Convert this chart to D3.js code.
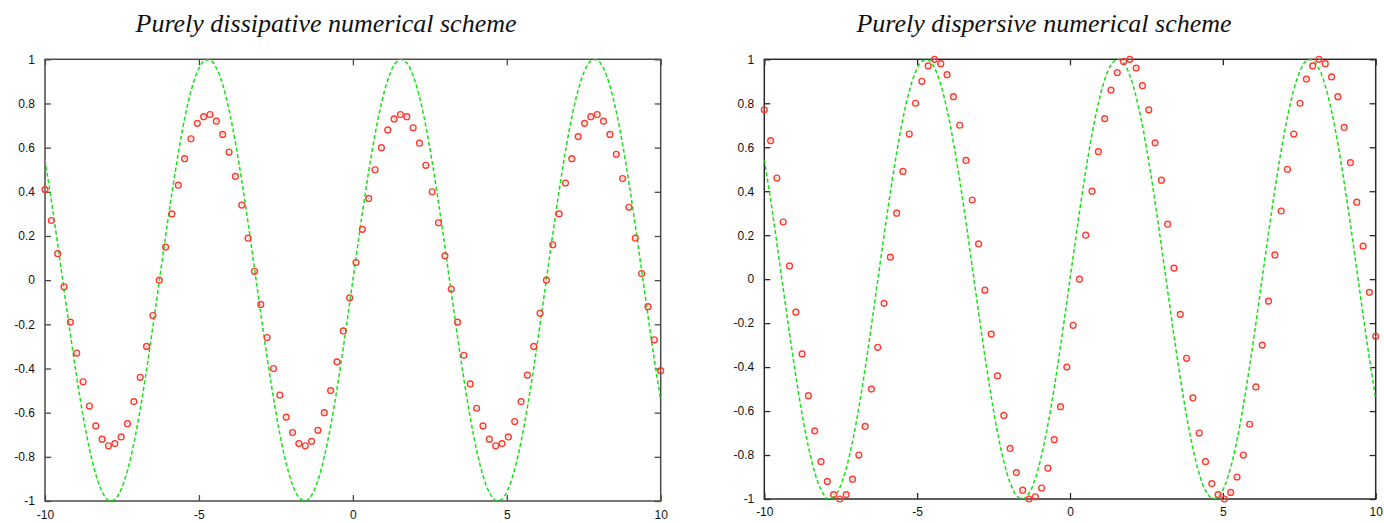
<!DOCTYPE html>
<html>
<head>
<meta charset="utf-8">
<script src="https://cdn.jsdelivr.net/npm/d3@7"></script>
<style>
  body { margin: 0; background: #fff; }
  svg { display: block; }
  .tick text { font-family: "Liberation Sans", Arial, sans-serif; font-size: 12px; fill: #111; }
  .title { font-family: "Liberation Serif", "Times New Roman", serif; font-style: italic; font-size: 26px; fill: #111; }
</style>
</head>
<body>
<svg id="chart" width="1384" height="523"></svg>
<script>
// sample positions of the numerical solution (same grid in both panels)
const xs = [
  -10.000, -9.794, -9.588, -9.381, -9.175, -8.969, -8.763, -8.557, -8.351, -8.144,
  -7.938, -7.732, -7.526, -7.320, -7.113, -6.907, -6.701, -6.495, -6.289, -6.082,
  -5.876, -5.670, -5.464, -5.258, -5.052, -4.845, -4.639, -4.433, -4.227, -4.021,
  -3.814, -3.608, -3.402, -3.196, -2.990, -2.784, -2.577, -2.371, -2.165, -1.959,
  -1.753, -1.546, -1.340, -1.134, -0.928, -0.722, -0.515, -0.309, -0.103,
  0.103, 0.309, 0.515, 0.722, 0.928, 1.134, 1.340, 1.546, 1.753, 1.959,
  2.165, 2.371, 2.577, 2.784, 2.990, 3.196, 3.402, 3.608, 3.814, 4.021,
  4.227, 4.433, 4.639, 4.845, 5.052, 5.258, 5.464, 5.670, 5.876, 6.082,
  6.289, 6.495, 6.701, 6.907, 7.113, 7.320, 7.526, 7.732, 7.938, 8.144,
  8.351, 8.557, 8.763, 8.969, 9.175, 9.381, 9.588, 9.794, 10.000
];

// exact solution (green dashed)
const exactY = [
  0.544, 0.361, 0.163, -0.044, -0.247, -0.440, -0.615, -0.763, -0.879, -0.958,
  -0.997, -0.993, -0.947, -0.861, -0.738, -0.584, -0.406, -0.210, -0.006, 0.200,
  0.396, 0.575, 0.731, 0.855, 0.943, 0.991, 0.997, 0.961, 0.885, 0.770,
  0.623, 0.450, 0.258, 0.054, -0.151, -0.350, -0.535, -0.697, -0.829, -0.926,
  -0.983, -1.000, -0.974, -0.906, -0.800, -0.661, -0.493, -0.304, -0.103,
  0.103, 0.304, 0.493, 0.661, 0.800, 0.906, 0.974, 1.000, 0.983, 0.926,
  0.829, 0.697, 0.535, 0.350, 0.151, -0.054, -0.258, -0.450, -0.623, -0.770,
  -0.885, -0.961, -0.997, -0.991, -0.943, -0.855, -0.731, -0.575, -0.396, -0.200,
  0.006, 0.210, 0.406, 0.584, 0.738, 0.861, 0.947, 0.993, 0.997, 0.958,
  0.879, 0.763, 0.615, 0.440, 0.247, 0.044, -0.163, -0.361, -0.544
];

// numerical solution, dissipative scheme (red circles, left)
const dissipY = [
  0.41, 0.27, 0.12, -0.03, -0.19, -0.33, -0.46, -0.57, -0.66, -0.72,
  -0.75, -0.74, -0.71, -0.65, -0.55, -0.44, -0.30, -0.16, 0.00, 0.15,
  0.30, 0.43, 0.55, 0.64, 0.71, 0.74, 0.75, 0.72, 0.66, 0.58,
  0.47, 0.34, 0.19, 0.04, -0.11, -0.26, -0.40, -0.52, -0.62, -0.69,
  -0.74, -0.75, -0.73, -0.68, -0.60, -0.50, -0.37, -0.23, -0.08,
  0.08, 0.23, 0.37, 0.50, 0.60, 0.68, 0.73, 0.75, 0.74, 0.69,
  0.62, 0.52, 0.40, 0.26, 0.11, -0.04, -0.19, -0.34, -0.47, -0.58,
  -0.66, -0.72, -0.75, -0.74, -0.71, -0.64, -0.55, -0.43, -0.30, -0.15,
  0.00, 0.16, 0.30, 0.44, 0.55, 0.65, 0.71, 0.74, 0.75, 0.72,
  0.66, 0.57, 0.46, 0.33, 0.19, 0.03, -0.12, -0.27, -0.41
];

// numerical solution, dispersive scheme (red circles, right)
const dispersY = [
  0.77, 0.63, 0.46, 0.26, 0.06, -0.15, -0.34, -0.53, -0.69, -0.83,
  -0.92, -0.98, -1.00, -0.98, -0.91, -0.80, -0.67, -0.50, -0.31, -0.11,
  0.10, 0.30, 0.49, 0.66, 0.80, 0.90, 0.97, 1.00, 0.98, 0.93,
  0.83, 0.70, 0.54, 0.36, 0.16, -0.05, -0.25, -0.44, -0.62, -0.77,
  -0.88, -0.96, -1.00, -0.99, -0.95, -0.86, -0.73, -0.58, -0.40, -0.21,
  0.00, 0.20, 0.40, 0.58, 0.73, 0.86, 0.94, 0.99, 1.00, 0.96,
  0.88, 0.77, 0.62, 0.45, 0.25, 0.05, -0.16, -0.36, -0.54, -0.70,
  -0.83, -0.93, -0.98, -1.00, -0.97, -0.90, -0.80, -0.66, -0.49, -0.30,
  -0.10, 0.11, 0.31, 0.50, 0.66, 0.80, 0.91, 0.97, 1.00, 0.98,
  0.92, 0.83, 0.69, 0.53, 0.35, 0.15, -0.06, -0.26
];

const xTicks = [-10, -5, 0, 5, 10];
const yTicks = [-1, -0.8, -0.6, -0.4, -0.2, 0, 0.2, 0.4, 0.6, 0.8, 1];
const titles = ["Purely dissipative numerical scheme", "Purely dispersive numerical scheme"];

const svg = d3.select("#chart");

const panels = [
  { id: "p0", title: titles[0], numY: dissipY, left: 45, right: 660.7, top: 59.3, bottom: 501, titleX: 326, xPad: 9, frame: "#4a4a4a" },
  { id: "p1", title: titles[1], numY: dispersY, left: 764.3, right: 1375.7, top: 59.3, bottom: 499, titleX: 1044, xPad: 8.5, frame: "#2a2a2a" }
];

panels.forEach(p => drawPanel(p));

function drawPanel(p) {
  const x = d3.scaleLinear().domain([-10, 10]).range([p.left, p.right]);
  const y = d3.scaleLinear().domain([-1, 1]).range([p.bottom, p.top]);
  const g = svg.append("g");

  svg.append("defs").append("clipPath").attr("id", "clip-" + p.id)
    .append("rect")
    .attr("x", p.left).attr("y", p.top)
    .attr("width", p.right - p.left).attr("height", p.bottom - p.top);

  g.append("text")
    .attr("class", "title")
    .attr("x", p.titleX)
    .attr("y", 31.5)
    .attr("text-anchor", "middle")
    .text(p.title);

  const fmt = d => String(+d.toFixed(1));

  // axes with inward ticks on all four sides (gnuplot mirror style)
  const ax = [
    g.append("g").attr("transform", `translate(0,${p.bottom})`)
      .call(d3.axisBottom(x).tickValues(xTicks).tickSize(-6).tickPadding(p.xPad).tickFormat(fmt)),
    g.append("g").attr("transform", `translate(${p.left},0)`)
      .call(d3.axisLeft(y).tickValues(yTicks).tickSize(-6).tickPadding(10).tickFormat(fmt)),
    g.append("g").attr("transform", `translate(0,${p.top})`)
      .call(d3.axisTop(x).tickValues(xTicks).tickSize(-6).tickFormat("")),
    g.append("g").attr("transform", `translate(${p.right},0)`)
      .call(d3.axisRight(y).tickValues(yTicks).tickSize(-6).tickFormat(""))
  ];
  ax.forEach(a => {
    a.select(".domain").remove();
    a.selectAll(".tick line").attr("stroke", p.frame).attr("stroke-width", 1.3);
  });

  g.append("rect")
    .attr("x", p.left).attr("y", p.top)
    .attr("width", p.right - p.left).attr("height", p.bottom - p.top)
    .attr("fill", "none")
    .attr("stroke", p.frame)
    .attr("stroke-width", 1.5);

  const line = d3.line()
    .x((d, i) => x(xs[i]))
    .y(d => y(d))
    .curve(d3.curveCatmullRom);

  g.append("path")
    .attr("clip-path", `url(#clip-${p.id})`)
    .attr("d", line(exactY))
    .attr("fill", "none")
    .attr("stroke", "#14e014")
    .attr("stroke-width", 1.5)
    .attr("stroke-dasharray", "4,2.5");

  const pts = g.append("g").selectAll("g")
    .data(p.numY)
    .join("g")
    .attr("transform", (d, i) => `translate(${x(xs[i])},${y(d)})`);

  pts.append("circle")
    .attr("r", 2.9)
    .attr("fill", "none")
    .attr("stroke", "#ff3b30")
    .attr("stroke-width", 1.4);

  pts.append("circle")
    .attr("r", 0.6)
    .attr("fill", "#ff8a80");
}
</script>
</body>
</html>
